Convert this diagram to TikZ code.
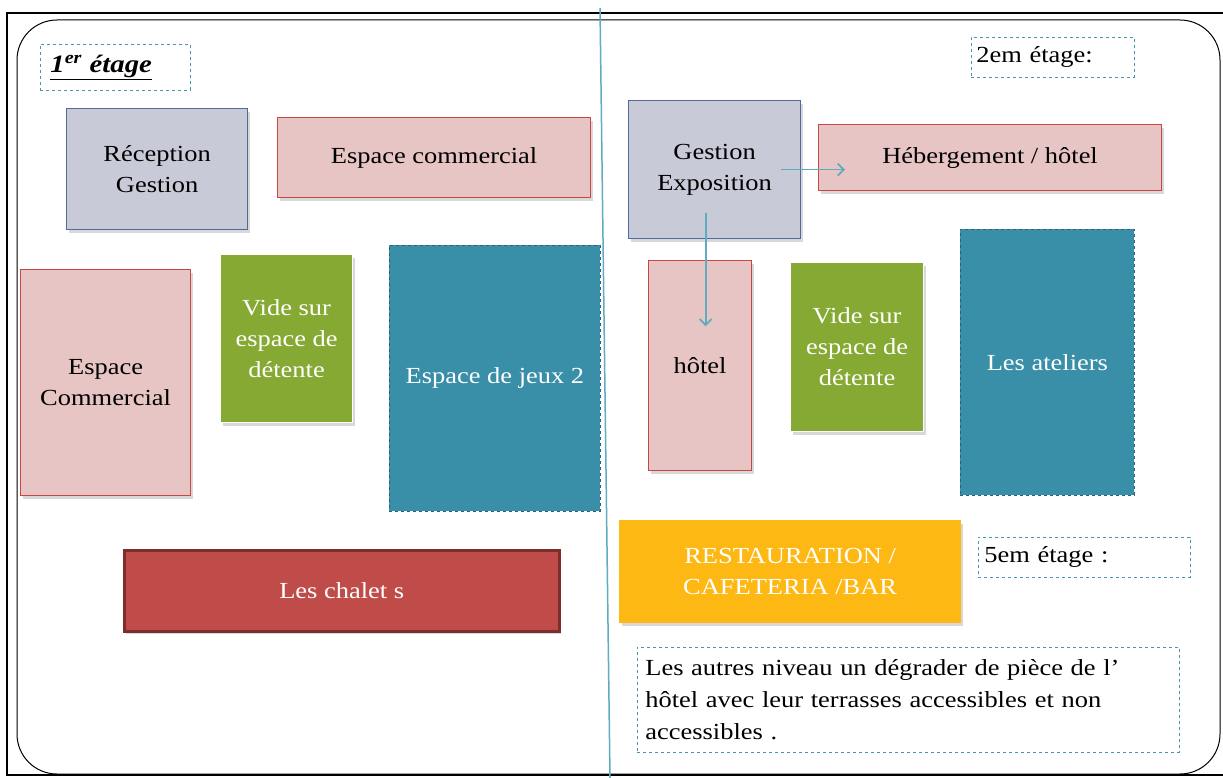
\documentclass[tikz,border=0pt]{standalone}
\usepackage{fontspec}
\setmainfont[FakeStretch=1.15]{Liberation Serif}
\usetikzlibrary{shadows,arrows.meta,calc}
\definecolor{lavfill}{RGB}{200,203,215}
\definecolor{lavdraw}{RGB}{80,106,160}
\definecolor{pinkfill}{RGB}{230,197,196}
\definecolor{pinkdraw}{RGB}{200,70,68}
\definecolor{greenfill}{RGB}{134,169,52}
\definecolor{tealfill}{RGB}{57,143,167}
\definecolor{tealdraw}{RGB}{40,100,118}
\definecolor{chaletfill}{RGB}{192,76,74}
\definecolor{chaletdraw}{RGB}{125,45,43}
\definecolor{orangefill}{RGB}{253,184,19}
\definecolor{linecol}{RGB}{95,172,192}
\definecolor{dashcol}{RGB}{72,150,172}
\begin{document}
\begin{tikzpicture}[x=1pt,y=-1pt,
  every node/.style={font=\fontsize{23}{31}\selectfont, inner sep=0pt},
  room/.style={anchor=north west, align=center, line width=1.2pt},
  shad/.style={drop shadow={shadow xshift=2pt,shadow yshift=-3pt,opacity=0.3}},
  lav/.style={room, shad, fill=lavfill, draw=lavdraw},
  pink/.style={room, shad, fill=pinkfill, draw=pinkdraw},
  green/.style={room, shad, fill=greenfill, draw=white, text=white},
  teal/.style={room, fill=tealfill, draw=tealdraw, dashed, line width=0.8pt, text=white},
  label/.style={anchor=north west, align=left, draw=dashcol, dashed, line width=0.8pt, fill=white},
  arr/.style={draw=linecol, line width=1.8pt, -{Straight Barb[length=6pt,width=12pt]}}
]
\useasboundingbox (0,0) rectangle (1223,778);
\fill[white] (0,0) rectangle (1223,778);
% outer frame
\draw[line width=1.5pt] (1223,13) -- (7,13) -- (7,775) -- (1223,775);
\draw[line width=1pt, rounded corners=40pt] (17,20) rectangle (1220,774);
% separator
\draw[linecol, line width=1.5pt] (600,8) -- (610,778);

% left: 1er etage
\node[label, minimum height=46pt, text width=140pt, inner xsep=5pt] (l1) at (40,44)
  {\hspace{5pt}\underline{\fontsize{25}{31}\selectfont\textbf{\textit{1\textsuperscript{er} étage}}}};
\node[lav, minimum width=181pt, minimum height=121pt] (recep) at (66,108) {Réception\\Gestion};
\node[pink, minimum width=313pt, minimum height=80pt] (ecom) at (277,117) {Espace commercial};
\node[pink, minimum width=170pt, minimum height=226pt] (ecom2) at (20,269) {Espace\\Commercial};
\node[green, minimum width=132pt, minimum height=168pt] (vide1) at (220,254) {Vide sur\\espace de\\détente};
\node[teal, minimum width=211pt, minimum height=266pt] (jeux) at (389,245) {Espace de jeux 2};
\node[room, shad, fill=chaletfill, draw=chaletdraw, line width=2.5pt, text=white,
  minimum width=435pt, minimum height=81pt] (chalets) at (123,549) {Les chalet s};

% right: 2em etage
\node[label, minimum height=40pt, text width=153pt, inner xsep=5pt] (l2) at (971,37) {2em étage:};
\node[lav, minimum width=172pt, minimum height=138pt] (gexp) at (628,100) {Gestion\\Exposition};
\node[pink, minimum width=343pt, minimum height=66pt] (heb) at (818,124) {Hébergement / hôtel};
\node[pink, minimum width=103pt, minimum height=210pt] (hotel) at (648,260) {hôtel};
\node[green, minimum width=133pt, minimum height=169pt] (vide2) at (790,262) {Vide sur\\espace de\\détente};
\node[teal, minimum width=174pt, minimum height=266pt] (ateliers) at (960,229) {Les ateliers};
\node[room, shad, fill=orangefill, draw=orangefill, text=white,
  minimum width=341pt, minimum height=102pt] (resto) at (619,520) {RESTAURATION /\\CAFETERIA /BAR};
\node[label, minimum height=40pt, text width=200pt, inner xsep=6pt] (l5) at (978,537) {5em étage :};
\node[label, minimum height=105pt, text width=526pt, inner xsep=8pt, inner ysep=6pt, anchor=north west,
  font=\fontsize{23}{32}\selectfont] (autres) at (637,647)
  {Les autres niveau un dégrader de pièce de l’\\hôtel avec leur terrasses accessibles et non\\accessibles .};

% arrows
\draw[arr] ([xshift=-20pt]gexp.east) -- ([xshift=27pt]gexp.east -| heb.west);
\draw[arr] ([xshift=-9pt,yshift=26pt]gexp.south) -- ([xshift=-9pt,yshift=-87pt]gexp.south);
\end{tikzpicture}
\end{document}
